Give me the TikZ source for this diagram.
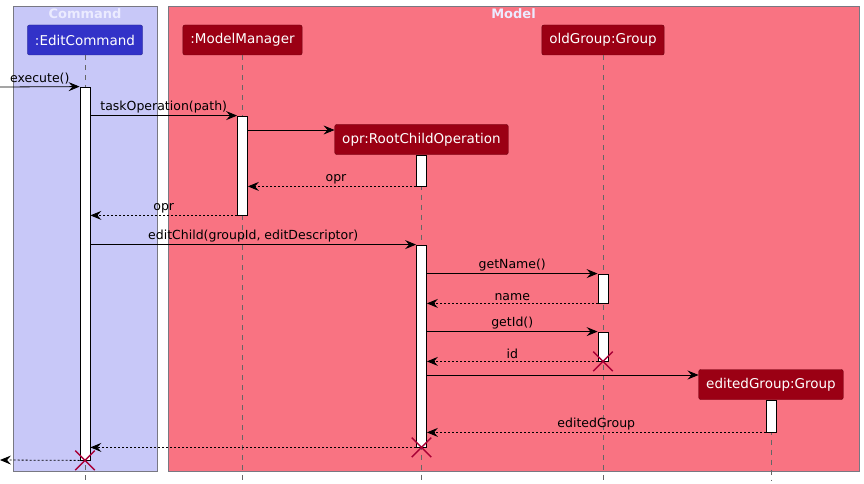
\documentclass[tikz,border=0pt]{standalone}
\usepackage{fontspec}
\setmainfont{DejaVu Sans}
\usetikzlibrary{arrows.meta,positioning,calc,shapes.misc}

\definecolor{cmdbg}{RGB}{200,200,248}
\definecolor{modbg}{RGB}{249,115,130}
\definecolor{cmdblue}{RGB}{50,50,200}
\definecolor{modred}{RGB}{155,0,20}
\definecolor{grpline}{RGB}{120,120,130}
\definecolor{xred}{RGB}{168,0,54}

\begin{document}
\begin{tikzpicture}[x=1pt,y=-1pt,
  part/.style={rounded corners=2pt, minimum height=30pt, inner xsep=7.5pt,
    text=white, font=\fontsize{13.5}{16}\selectfont},
  cmdpart/.style={part, fill=cmdblue, draw=cmdblue!70!black},
  modpart/.style={part, fill=modred, draw=modred!70!black},
  grptitle/.style={text=white!92!blue, font=\bfseries\fontsize{13}{15}\selectfont},
  life/.style={draw=black!60, dash pattern=on 5pt off 5pt, line width=0.7pt},
  act/.style={draw, fill=white, minimum width=10pt, inner sep=0pt, line width=0.8pt},
  msg/.style={-{Stealth[length=11pt,width=9pt,inset=4pt]}, line width=0.8pt},
  ret/.style={msg, dash pattern=on 2pt off 2pt},
  lbl/.style={font=\fontsize{12.5}{15}\selectfont, inner sep=2pt},
  kill/.style={draw=xred, cross out, minimum size=18pt, line width=1.5pt}]
  \useasboundingbox (0,0) rectangle (864,484);

  % boxes
  \draw[fill=cmdbg, draw=grpline] (13,6) rectangle (157,471);
  \draw[fill=modbg, draw=grpline] (168,6) rectangle (859,471);
  \node[grptitle] (tCmd) at (85,14) {Command};
  \node[grptitle] (tMod) at (513.5,14) {Model};

  % participants
  \node[cmdpart] (pEC) at (85,40) {:EditCommand};
  \node[modpart] (pMM) at (242.5,40) {:ModelManager};
  \node[modpart] (pOld) at (603,40) {oldGroup:Group};
  \node[modpart] (pOpr) at (421.5,139.5) {opr:RootChildOperation};
  \node[modpart] (pEd) at (771,384.5) {editedGroup:Group};

  % lifelines
  \draw[life] (pEC.south) -- (pEC |- 0,481);
  \draw[life] (pMM.south) -- (pMM |- 0,481);
  \draw[life] (pOld.south) -- (pOld |- 0,481);
  \draw[life] (pOpr.south) -- (pOpr |- 0,481);
  \draw[life] (pEd.south) -- (pEd |- 0,481);

  % activations
  \node[act, minimum height=373pt] (aEC) at (85,273.5) {};
  \node[act, minimum height=99pt] (aMM) at (242.5,165.5) {};
  \node[act, minimum height=31pt] (aOpr1) at (421.5,170.5) {};
  \node[act, minimum height=202pt] (aOpr2) at (421.5,346) {};
  \node[act, minimum height=29pt] (aOld1) at (603,288.5) {};
  \node[act, minimum height=29pt] (aOld2) at (603,346.5) {};
  \node[act, minimum height=32pt] (aEd) at (771,416) {};

  % messages
  \coordinate (in) at (0,87);
  \coordinate (out) at (0,460);
  \draw[msg](in)--(aEC.north west)node[midway, above, lbl]{execute()};
  \draw[msg](aEC.east |- aMM.north)--(aMM.north west)node[midway, above, lbl]{taskOperation(path)};
  \draw[msg](aMM.east |- 0,130)--(pOpr.west |- 0,130);
  \draw[ret](aOpr1.south west)--(aMM.east |- aOpr1.south)node[midway, above, lbl, xshift=4pt]{opr};
  \draw[ret](aMM.south west)--(aEC.east |- aMM.south)node[midway, above, lbl]{opr};
  \draw[msg](aEC.east |- aOpr2.north)--(aOpr2.north west)node[midway, above, lbl]{editChild(groupId, editDescriptor)};
  \draw[msg](aOpr2.east |- aOld1.north)--(aOld1.north west)node[midway, above, lbl]{getName()};
  \draw[ret](aOld1.south west)--(aOpr2.east |- aOld1.south)node[midway, above, lbl]{name};
  \draw[msg](aOpr2.east |- aOld2.north)--(aOld2.north west)node[midway, above, lbl]{getId()};
  \draw[ret](aOld2.south west)--(aOpr2.east |- aOld2.south)node[midway, above, lbl]{id};
  \draw[msg](aOpr2.east |- 0,375)--(pEd.west |- 0,375);
  \draw[ret](aEd.south west)--(aOpr2.east |- aEd.south)node[midway, above, lbl]{editedGroup};
  \draw[ret](aOpr2.south west)--(aEC.east |- aOpr2.south);
  \draw[ret](aEC.south west)--(out);

  % destroyed
  \node[kill] (xOld) at (aOld2.south) {};
  \node[kill] (xOpr) at (aOpr2.south) {};
  \node[kill] (xEC) at (aEC.south) {};
\end{tikzpicture}
\end{document}
